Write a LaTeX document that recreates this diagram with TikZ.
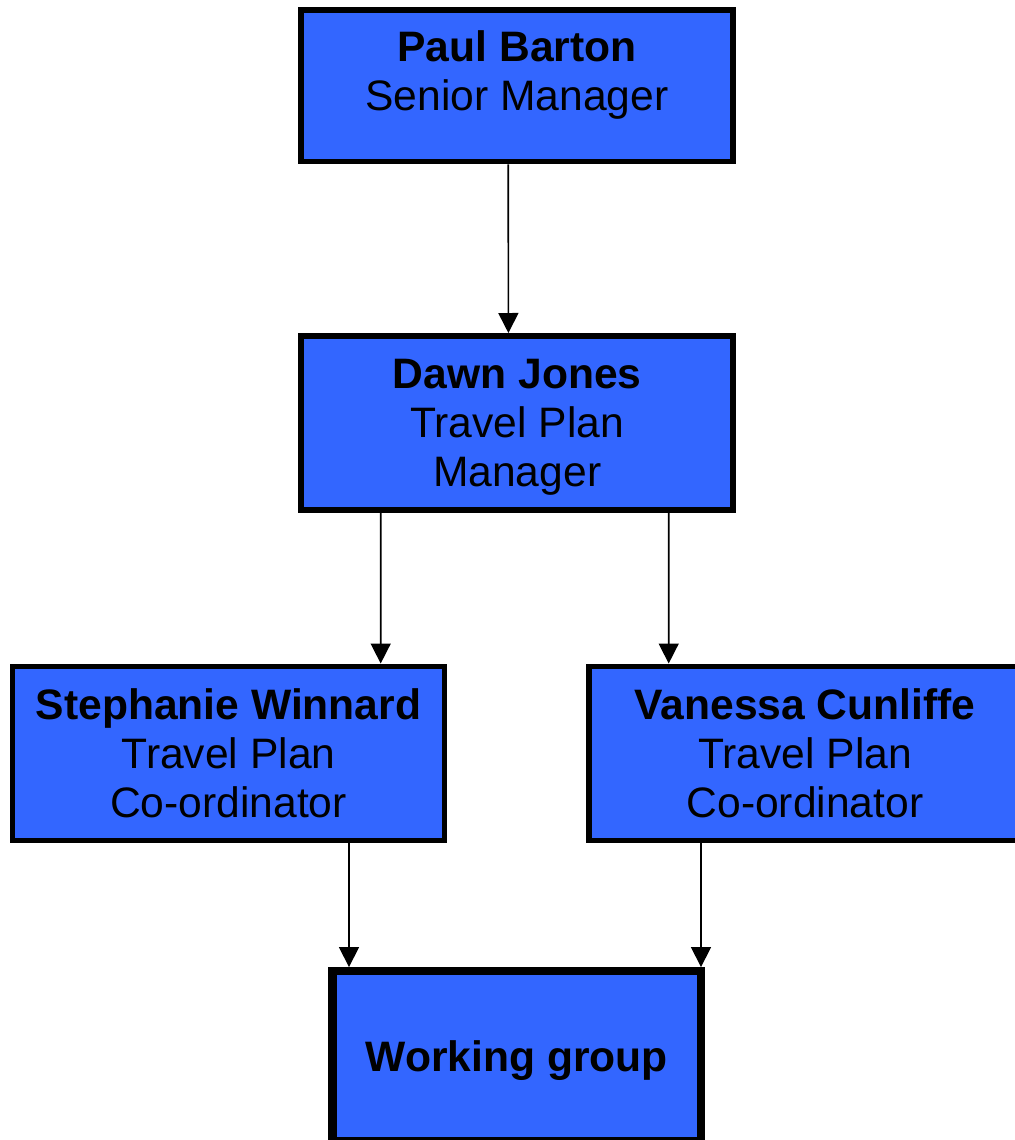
\documentclass[tikz,border=0pt]{standalone}
\usepackage{fontspec}
\setmainfont{Liberation Sans}
\usetikzlibrary{arrows.meta}
\definecolor{postblue}{HTML}{3366FF}
% lines of a box, set on struts and lowered a little
\newcommand{\posttext}[2][-2.6pt]{\raisebox{#1}[\height][\depth]{\begin{tabular}{@{}c@{}}#2\end{tabular}}}
\begin{document}
\begin{tikzpicture}[x=0.5pt,y=-0.5pt,inner sep=0pt,
post/.style={draw,fill=postblue,rectangle,line width=2.8pt,minimum width=216pt,minimum height=87pt,font=\fontsize{21.3}{24.5}\selectfont},
link/.style={-{Triangle[width=10pt,length=10pt]},line width=0.8pt}]
\useasboundingbox (0,0) rectangle (1014,1140);
\draw (517,85.8) node[post,minimum height=75.7pt] (pb) {\posttext[4.6pt]{\textbf{Paul Barton}\\Senior Manager}};
\draw (517.2,422.8) node[post] (dj) {\posttext{\textbf{Dawn Jones}\\Travel Plan\\Manager}};
\draw (228.5,753.3) node[post] (sw) {\posttext{\textbf{Stephanie Winnard}\\Travel Plan\\Co-ordinator}};
\draw (805,753.3) node[post] (vc) {\posttext{\textbf{Vanessa Cunliffe}\\Travel Plan\\Co-ordinator}};
\draw (516.7,1056) node[post,line width=4.15pt,minimum width=184.2pt,minimum height=84.8pt] (wg) {\posttext[-3pt]{\textbf{Working group}}};
\draw[link] ([xshift=-4.4pt]pb.south) -- ([xshift=-4.4pt]dj.north);
\draw[link] ([xshift=-68.25pt]dj.south) -- ([xshift=76.1pt]sw.north);
\draw[link] ([xshift=75.75pt]dj.south) -- ([xshift=-68.15pt]vc.north);
\draw[link] ([xshift=60.25pt]sw.south) -- ([xshift=-83.85pt]wg.north);
\draw[link] ([xshift=-52pt]vc.south) -- ([xshift=92.15pt]wg.north);
\end{tikzpicture}
\end{document}
